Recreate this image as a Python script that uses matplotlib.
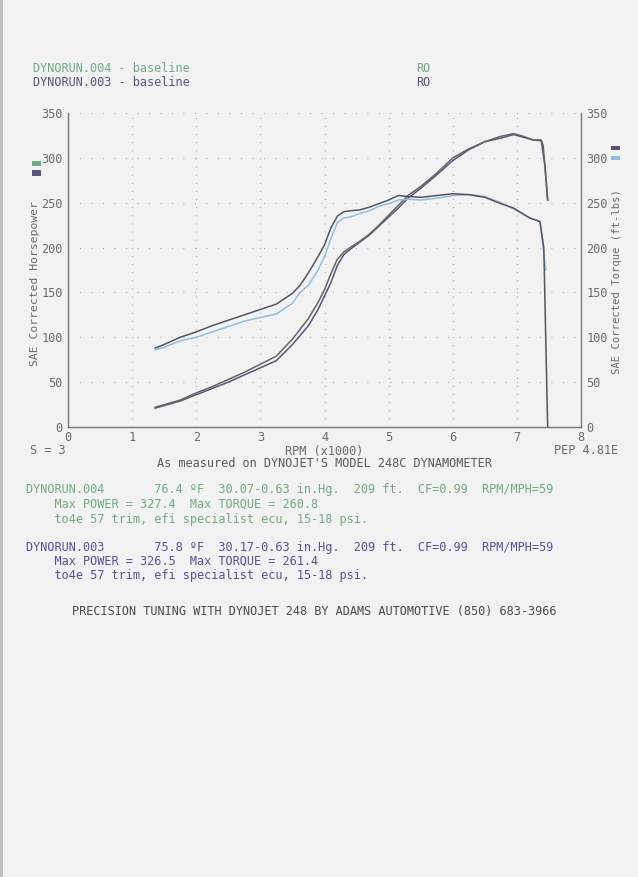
import numpy as np
import matplotlib
matplotlib.use('Agg')
import matplotlib.pyplot as plt
from matplotlib.patches import Rectangle

W, H = 638, 877
MONO = 'DejaVu Sans Mono'
FS = 8.6

# run 004 (green) / run 003 (purple)
rpm_tq004 = [1.36, 1.5, 1.75, 2.0, 2.25, 2.5, 2.75, 3.0, 3.25, 3.5, 3.62, 3.75, 3.9, 4.0, 4.1, 4.2,
             4.3, 4.4, 4.55, 4.7, 4.85, 5.0, 5.15, 5.3, 5.5, 5.75, 6.0, 6.25, 6.5, 6.75, 6.95, 7.2,
             7.36, 7.42, 7.48]
tq004 = [88, 92, 100, 106, 113, 119, 125, 131, 137, 149, 158, 172, 190, 203, 222, 235,
         240, 241, 242, 245, 249, 253, 258, 257, 256, 258, 260, 259, 256, 249, 244, 233,
         229, 200, 0]

rpm_tq003 = [1.36, 1.5, 1.75, 2.0, 2.25, 2.5, 2.75, 3.0, 3.25, 3.5, 3.62, 3.75, 3.9, 4.0, 4.1, 4.2,
             4.3, 4.4, 4.55, 4.7, 4.85, 5.0, 5.15, 5.3, 5.5, 5.75, 6.0, 6.25, 6.5, 6.75, 6.95, 7.2,
             7.36, 7.45]
tq003 = [86, 89, 96, 100, 106, 112, 118, 122, 126, 138, 150, 158, 175, 190, 210, 228,
         233, 234, 238, 241, 246, 249, 253, 254, 253, 255, 258, 259, 257, 250, 243, 233,
         229, 175]

rpm_hp004 = [1.36, 1.75, 2.0, 2.25, 2.5, 2.75, 3.0, 3.25, 3.5, 3.62, 3.75, 3.9, 4.0, 4.1, 4.2,
             4.3, 4.4, 4.55, 4.7, 4.85, 5.0, 5.15, 5.3, 5.5, 5.75, 6.0, 6.25, 6.5, 6.75, 6.95,
             7.1, 7.25, 7.38, 7.41, 7.48]
hp004 = [22, 30, 38, 45, 53, 61, 70, 79, 98, 109, 121, 139, 153, 171, 187,
         195, 200, 207, 215, 225, 236, 247, 258, 268, 283, 300, 310, 318, 324, 327,
         324, 320, 320, 314, 253]

rpm_hp003 = [1.36, 1.75, 2.0, 2.25, 2.5, 2.75, 3.0, 3.25, 3.5, 3.62, 3.75, 3.9, 4.0, 4.1, 4.2,
             4.3, 4.4, 4.55, 4.7, 4.85, 5.0, 5.15, 5.3, 5.5, 5.75, 6.0, 6.25, 6.5, 6.75, 6.95,
             7.1, 7.25, 7.38, 7.44, 7.48]
hp003 = [21, 29, 36, 43, 50, 58, 66, 74, 92, 102, 113, 131, 146, 161, 180,
         192, 198, 206, 214, 224, 234, 244, 255, 266, 281, 297, 309, 318, 322, 326,
         323, 320, 319, 290, 253]

y_ticks = [0, 50, 100, 150, 200, 250, 300, 350]
x_ticks = [0, 1, 2, 3, 4, 5, 6, 7, 8]

GREEN = '#6fab80'
PURPLE = '#55557e'
DARK = '#55555f'
BLUE = '#93bde0'
GRAY = '#6a6a6a'


def fx(x):
    return x / W


def fy(y):
    return 1 - y / H


fig = plt.figure(figsize=(W / 100, H / 100), dpi=100)
fig.patch.set_facecolor('#f1f2f1')
fig.add_artist(Rectangle((0, 0), fx(3), 1, transform=fig.transFigure, color='#bdbdbd', lw=0))

ax = fig.add_axes([fx(68), fy(427), fx(581 - 68), (427 - 113) / H])
ax.set_facecolor('none')
ax.set_xlim(0, 8)
ax.set_ylim(0, 350)

# dotted grid
for v in y_ticks[1:]:
    ax.axhline(v, color='#a8a8a8', lw=0.9, dashes=(0.7, 8.5), zorder=1)
for v in x_ticks[1:-1]:
    ax.axvline(v, color='#a8a8a8', lw=0.9, dashes=(0.7, 5.8), zorder=1)

ax.plot(rpm_hp003, hp003, color=PURPLE, lw=1.1, zorder=3)
ax.plot(rpm_hp004, hp004, color='#5f675f', lw=1.1, zorder=3)
ax.plot(rpm_tq003, tq003, color=BLUE, lw=1.1, zorder=3)
ax.plot(rpm_tq004, tq004, color=DARK, lw=1.1, zorder=4)

for s in ['left', 'right', 'bottom']:
    ax.spines[s].set_color('#777777')
    ax.spines[s].set_linewidth(1.0)
ax.spines['top'].set_visible(False)

ax.set_xticks(x_ticks)
ax.set_yticks(y_ticks)
ax.tick_params(length=0, labelsize=FS, labelcolor=GRAY, labelright=True, pad=4)
for lab in ax.get_xticklabels() + ax.get_yticklabels():
    lab.set_family(MONO)
ax.tick_params(axis='x', pad=3)

# header
fig.text(fx(33), fy(68), 'DYNORUN.004 - baseline', color=GREEN, family=MONO, size=FS, va='center')
fig.text(fx(416), fy(68), 'RO', color=GREEN, family=MONO, size=FS, va='center')
fig.text(fx(33), fy(83), 'DYNORUN.003 - baseline', color=PURPLE, family=MONO, size=FS, va='center')
fig.text(fx(416), fy(83), 'RO', color=PURPLE, family=MONO, size=FS, va='center')

# axis titles
fig.text(fx(35), fy(283), 'SAE Corrected Horsepower', rotation=90, color=GRAY, family=MONO,
         size=8.2, ha='center', va='center')
fig.text(fx(617), fy(282), 'SAE Corrected Torque (ft-lbs)', rotation=90, color=GRAY, family=MONO,
         size=7.6, ha='center', va='center')

for (x0, y0, x1, y1, c) in [(32, 161, 41, 166, GREEN), (32, 170, 41, 176, PURPLE),
                            (611, 146, 620, 150, DARK), (611, 156, 620, 160, BLUE)]:
    fig.add_artist(Rectangle((fx(x0), fy(y1)), fx(x1 - x0), (y1 - y0) / H,
                             transform=fig.transFigure, color=c, lw=0))

fig.text(fx(30), fy(451), 'S = 3', color=GRAY, family=MONO, size=FS, va='center')
fig.text(fx(324), fy(451), 'RPM (x1000)', color=GRAY, family=MONO, size=FS, va='center', ha='center')
fig.text(fx(618), fy(451), 'PEP 4.81E', color=GRAY, family=MONO, size=FS, va='center', ha='right')
fig.text(fx(324), fy(464), "As measured on DYNOJET'S MODEL 248C DYNAMOMETER", color='#5a5a5a',
         family=MONO, size=FS, va='center', ha='center')

# run details
rows = [
    (490, 'DYNORUN.004       76.4 \u00baF  30.07-0.63 in.Hg.  209 ft.  CF=0.99  RPM/MPH=59', GREEN),
    (504, '    Max POWER = 327.4  Max TORQUE = 260.8', GREEN),
    (519, '    to4e 57 trim, efi specialist ecu, 15-18 psi.', GREEN),
    (547, 'DYNORUN.003       75.8 \u00baF  30.17-0.63 in.Hg.  209 ft.  CF=0.99  RPM/MPH=59', '#52529a'),
    (561, '    Max POWER = 326.5  Max TORQUE = 261.4', '#52529a'),
    (575, '    to4e 57 trim, efi specialist ecu, 15-18 psi.', '#52529a'),
]
for y, s, c in rows:
    fig.text(fx(26), fy(y), s, color=c, family=MONO, size=FS, va='center')

fig.text(fx(72), fy(612), 'PRECISION TUNING WITH DYNOJET 248 BY ADAMS AUTOMOTIVE (850) 683-3966',
         color='#4a4a4a', family=MONO, size=FS, va='center')

fig.savefig('out.png', dpi=100, facecolor=fig.get_facecolor())
